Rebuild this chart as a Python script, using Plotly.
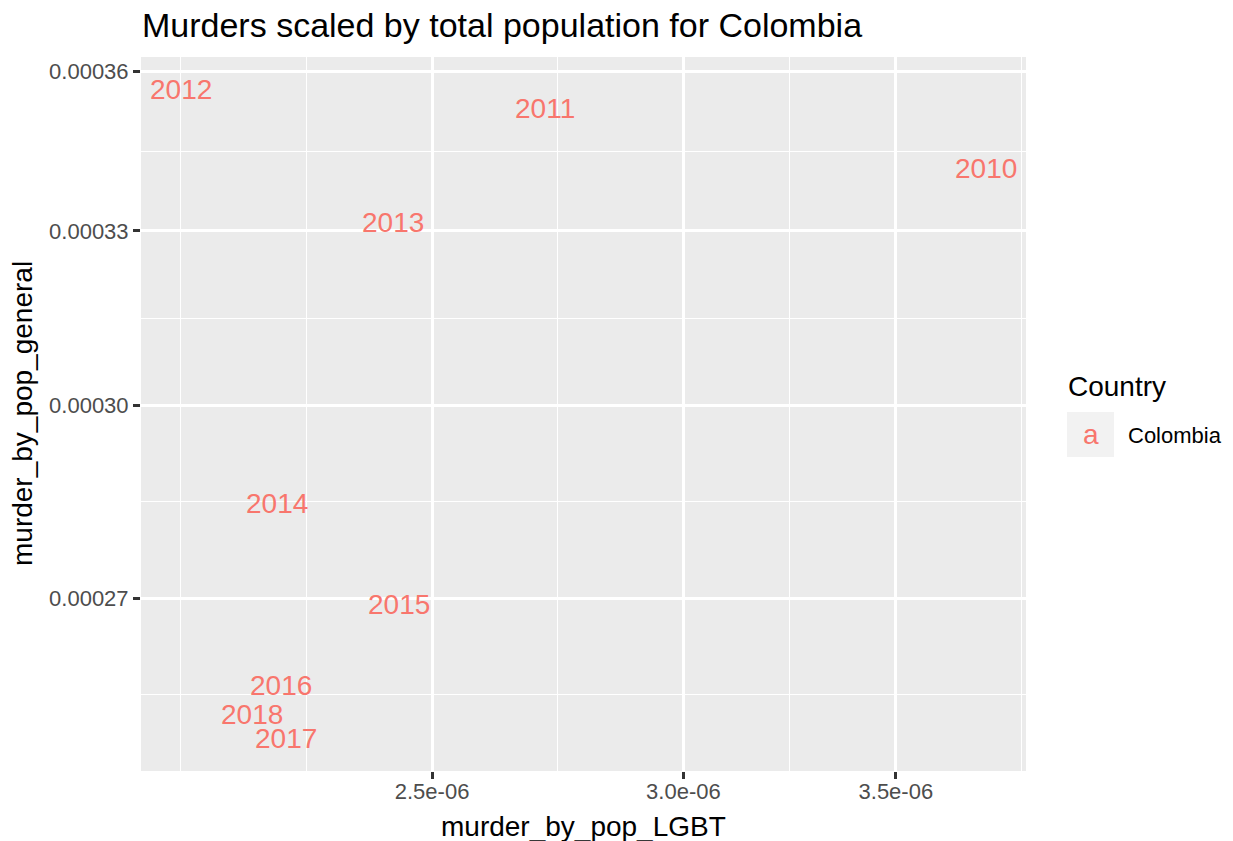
import numpy as np
import plotly.graph_objects as go

# ---- data -------------------------------------------------------------
years = ["2010", "2011", "2012", "2013", "2014", "2015", "2016", "2017", "2018"]
murder_by_pop_LGBT = [3.736e-06, 2.714e-06, 2.084e-06, 2.430e-06, 2.234e-06,
                      2.440e-06, 2.241e-06, 2.249e-06, 2.194e-06]
murder_by_pop_general = [0.0003415, 0.0003528, 0.0003565, 0.0003315, 0.0002843,
                         0.0002691, 0.0002574, 0.0002501, 0.0002534]
country = "Colombia"

x_ticks = [2.5e-06, 3.0e-06, 3.5e-06]
x_tick_labels = ["2.5e-06", "3.0e-06", "3.5e-06"]
y_ticks = [0.00027, 0.00030, 0.00033, 0.00036]
y_tick_labels = ["0.00027", "0.00030", "0.00033", "0.00036"]

# ---- styling ----------------------------------------------------------
W, H = 1233, 841
ML, MR, MT, MB = 141, 207, 57, 70
RED = "#F8766D"
PANEL = "#EBEBEB"
FONT = "Liberation Sans, Arial, Helvetica, sans-serif"


def log_range(vals, mult=0.05):
    lv = np.log10(np.asarray(vals, dtype=float))
    span = lv.max() - lv.min()
    return [lv.min() - mult * span, lv.max() + mult * span]


def minor_breaks(major, lim):
    """Minor gridlines halfway between majors in log space, extended one step past the ends."""
    b = list(np.log10(major))
    bd = b[1] - b[0]
    if lim[0] < b[0]:
        b = [b[0] - bd] + b
    if lim[1] > b[-1]:
        b = b + [b[-1] + bd]
    out = []
    for a, c in zip(b[:-1], b[1:]):
        out += [a, (a + c) / 2]
    out.append(b[-1])
    majors = np.log10(major)
    keep = [v for v in out if np.min(np.abs(majors - v)) > 1e-9 and lim[0] <= v <= lim[1]]
    return [10 ** v for v in keep]


def px_to_paper(px, py):
    pw, ph = W - ML - MR, H - MT - MB
    return (px - ML) / pw, (H - MB - py) / ph


xr = log_range(murder_by_pop_LGBT)
yr = log_range(murder_by_pop_general)

fig = go.Figure()
# invisible points carry the data and hover info; the year labels are drawn as annotations
fig.add_trace(go.Scatter(
    x=murder_by_pop_LGBT,
    y=murder_by_pop_general,
    text=years,
    mode="markers",
    marker=dict(size=1, opacity=0),
    hoverinfo="text+x+y",
    name=country,
    showlegend=False,
))

axis_common = dict(
    type="log",
    tickmode="array",
    showgrid=True,
    gridcolor="white",
    gridwidth=2.7,
    zeroline=False,
    showline=False,
    ticks="outside",
    ticklen=7,
    tickwidth=2.7,
    tickcolor="#333333",
    tickfont=dict(family=FONT, size=22, color="#4D4D4D"),
)

fig.update_xaxes(
    **axis_common,
    range=xr,
    tickvals=x_ticks,
    ticktext=x_tick_labels,
    ticklabelstandoff=-6,
    minor=dict(tickmode="array", tickvals=minor_breaks(x_ticks, xr),
               showgrid=True, gridcolor="white", gridwidth=1.35, ticks=""),
)
fig.update_yaxes(
    **axis_common,
    range=yr,
    tickvals=y_ticks,
    ticktext=y_tick_labels,
    minor=dict(tickmode="array", tickvals=minor_breaks(y_ticks, yr),
               showgrid=True, gridcolor="white", gridwidth=1.35, ticks=""),
)

annotations = []
# year labels at each point (log axes take log10 positions)
for yr_label, xv, yv in zip(years, murder_by_pop_LGBT, murder_by_pop_general):
    annotations.append(dict(text=yr_label, x=float(np.log10(xv)), y=float(np.log10(yv)),
                            xref="x", yref="y", xanchor="center", yanchor="middle",
                            showarrow=False, borderpad=0, borderwidth=0,
                            font=dict(family=FONT, size=28, color=RED)))
# plot title
tx, ty = px_to_paper(ML, 25)
annotations.append(dict(text="Murders scaled by total population for Colombia",
                        x=tx, y=ty, xref="paper", yref="paper", xanchor="left",
                        yanchor="middle", showarrow=False, borderpad=0,
                        font=dict(family=FONT, size=34, color="black")))
# axis titles
ax, ay = px_to_paper((ML + W - MR) / 2, 826)
annotations.append(dict(text="murder_by_pop_LGBT", x=ax, y=ay, xref="paper", yref="paper",
                        xanchor="center", yanchor="middle", showarrow=False,
                        font=dict(family=FONT, size=28, color="black")))
bx, by = px_to_paper(22, (MT + H - MB) / 2)
annotations.append(dict(text="murder_by_pop_general", x=bx, y=by, xref="paper", yref="paper",
                        xanchor="center", yanchor="middle", showarrow=False, textangle=-90,
                        font=dict(family=FONT, size=28, color="black")))
# legend
lx, ly = px_to_paper(1067, 386)
annotations.append(dict(text="Country", x=lx, y=ly, xref="paper", yref="paper",
                        xanchor="left", yanchor="middle", showarrow=False, borderpad=0,
                        font=dict(family=FONT, size=28, color="black")))
kx, ky = px_to_paper(1090.5, 434.5)
annotations.append(dict(text="a", x=kx, y=ky, xref="paper", yref="paper",
                        xanchor="center", yanchor="middle", showarrow=False,
                        font=dict(family=FONT, size=28, color=RED)))
cx, cy = px_to_paper(1127, 435)
annotations.append(dict(text=country, x=cx, y=cy, xref="paper", yref="paper",
                        xanchor="left", yanchor="middle", showarrow=False, borderpad=0,
                        font=dict(family=FONT, size=22, color="black")))

k0x, k0y = px_to_paper(1067, 457)
k1x, k1y = px_to_paper(1114, 412)
shapes = [dict(type="rect", xref="paper", yref="paper", x0=k0x, y0=k0y, x1=k1x, y1=k1y,
               fillcolor="#F2F2F2", line=dict(width=0), layer="below")]

fig.update_layout(
    width=W, height=H, autosize=False,
    margin=dict(l=ML, r=MR, t=MT, b=MB, pad=0),
    paper_bgcolor="white",
    plot_bgcolor=PANEL,
    showlegend=False,
    annotations=annotations,
    shapes=shapes,
    font=dict(family=FONT),
)

fig.write_html("out.html")
